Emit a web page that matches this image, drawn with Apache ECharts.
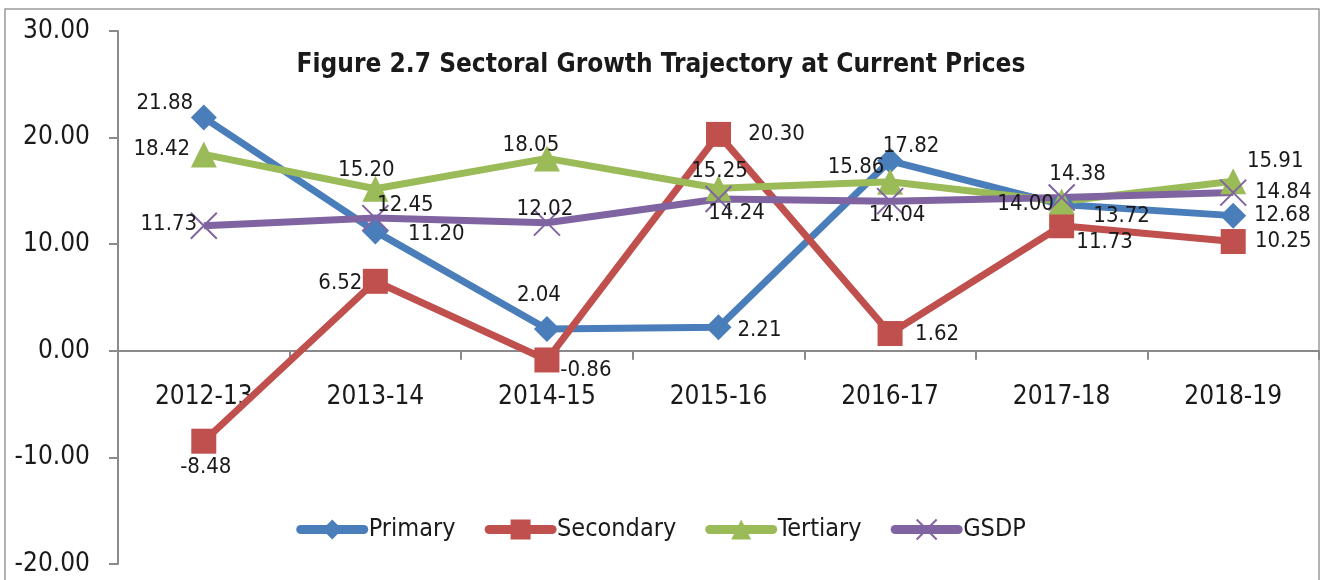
<!DOCTYPE html>
<html>
<head>
<meta charset="utf-8">
<script src="https://cdn.jsdelivr.net/npm/echarts@6/dist/echarts.min.js"></script>
<style>
  html, body { margin: 0; padding: 0; background: #fff; }
  #chart { width: 1322px; height: 580px; }
</style>
</head>
<body>
<div id="chart"></div>
<script>
var categories = ['2012-13', '2013-14', '2014-15', '2015-16', '2016-17', '2017-18', '2018-19']
var yTicks = [-20, -10, 0, 10, 20, 30]

var primary = [21.88, 11.20, 2.04, 2.21, 17.82, 13.72, 12.68]
var secondary = [-8.48, 6.52, -0.86, 20.30, 1.62, 11.73, 10.25]
var tertiary = [18.42, 15.20, 18.05, 15.25, 15.86, 14.00, 15.91]
var gsdp = [11.73, 12.45, 12.02, 14.24, 14.04, 14.38, 14.84]

// label offsets from the marker centre
var primaryLabelOffset = [[-39, -14], [61, 3], [-8, -34], [41, 3], [21, -15], [60, 12], [49, 0]]
var secondaryLabelOffset = [[2, 26], [-35, 2], [39, 10], [58, 0], [47, 1], [43, 17], [50, 0]]
var tertiaryLabelOffset = [[-42, -5], [-9, -18], [-16, -13], [1, -17], [-34, -14], [-36, 3], [42, -20]]
var gsdpLabelOffset = [[-35, -1], [30, -13], [-2, -13], [18, 14], [7, 14], [16, -23], [50, 0]]

var FONT = "'DejaVu Sans Condensed', 'Liberation Sans Narrow', sans-serif"
var TEXT = '#1a1a1a'
var AXIS = '#8a8a8a'
var crossPath = 'path://M0,0L10,11M10,0L0,11'

// plot area, the x axis sits on the zero line
var gridTop = 31
var gridBottom = 16
var gridHeight = 580 - gridTop - gridBottom
var zeroOffset = gridHeight * (0 - yTicks[0]) / (yTicks[yTicks.length - 1] - yTicks[0])

function withLabels (values, offsets) {
  return values.map(function (v, i) {
    return {
      value: v,
      label: { offset: offsets[i] }
    }
  })
}

function makeSeries (name, values, offsets, color, symbol, size) {
  var s = {
    name: name,
    type: 'line',
    data: withLabels(values, offsets),
    symbol: symbol,
    symbolSize: size,
    showAllSymbol: true,
    lineStyle: { color: color, width: 7 },
    itemStyle: { color: color },
    label: {
      show: true,
      position: 'inside',
      formatter: function (p) { return p.value.toFixed(2) },
      fontFamily: FONT,
      fontSize: 22,
      color: TEXT
    },
    emphasis: { disabled: true },
    z: 2
  }
  if (symbol === crossPath) {
    s.itemStyle = { color: color, borderColor: color, borderWidth: 2 }
  }
  return s
}

var chart = echarts.init(document.getElementById('chart'))
chart.setOption({
  animation: false,
  backgroundColor: '#fff',
  graphic: [
    {
      type: 'rect',
      shape: { x: 5, y: 9, width: 1314, height: 600 },
      style: { fill: 'none', stroke: '#9a9a9a', lineWidth: 1.5 },
      silent: true,
      z: -10
    }
  ],
  title: {
    text: 'Figure 2.7 Sectoral Growth Trajectory at Current Prices',
    left: 'center',
    top: 47,
    textStyle: {
      fontFamily: FONT,
      fontWeight: 'bold',
      fontSize: 26,
      color: TEXT
    }
  },
  legend: {
    bottom: 33,
    left: 'center',
    itemWidth: 63,
    itemHeight: 25,
    itemGap: 29,
    lineStyle: { width: 9, cap: 'round' },
    textStyle: { fontFamily: FONT, fontSize: 25, color: TEXT },
    data: ['Primary', 'Secondary', 'Tertiary', 'GSDP']
  },
  grid: {
    left: 118,
    right: 3,
    top: gridTop,
    bottom: gridBottom,
    containLabel: false,
    outerBoundsMode: 'none'
  },
  xAxis: {
    type: 'category',
    data: categories,
    offset: -zeroOffset,
    axisLine: { onZero: false, lineStyle: { color: AXIS, width: 2 } },
    axisTick: { show: true, length: 9, lineStyle: { color: AXIS, width: 2 } },
    axisLabel: {
      margin: 33,
      fontFamily: FONT,
      fontSize: 26,
      color: TEXT
    },
    splitLine: { show: false }
  },
  yAxis: {
    type: 'value',
    min: yTicks[0],
    max: yTicks[yTicks.length - 1],
    interval: 10,
    axisLine: { show: true, lineStyle: { color: AXIS, width: 2 } },
    axisTick: { show: true, length: 9, lineStyle: { color: AXIS, width: 2 } },
    axisLabel: {
      margin: 28,
      fontFamily: FONT,
      fontSize: 26,
      color: TEXT,
      formatter: function (v) { return v.toFixed(2) }
    },
    splitLine: { show: false }
  },
  series: [
    makeSeries('Primary', primary, primaryLabelOffset, '#4a7ebb', 'diamond', 26),
    makeSeries('Secondary', secondary, secondaryLabelOffset, '#c0504d', 'rect', 25),
    makeSeries('Tertiary', tertiary, tertiaryLabelOffset, '#9bbb59', 'triangle', 26),
    makeSeries('GSDP', gsdp, gsdpLabelOffset, '#8064a2', crossPath, 26)
  ]
})
</script>
</body>
</html>
